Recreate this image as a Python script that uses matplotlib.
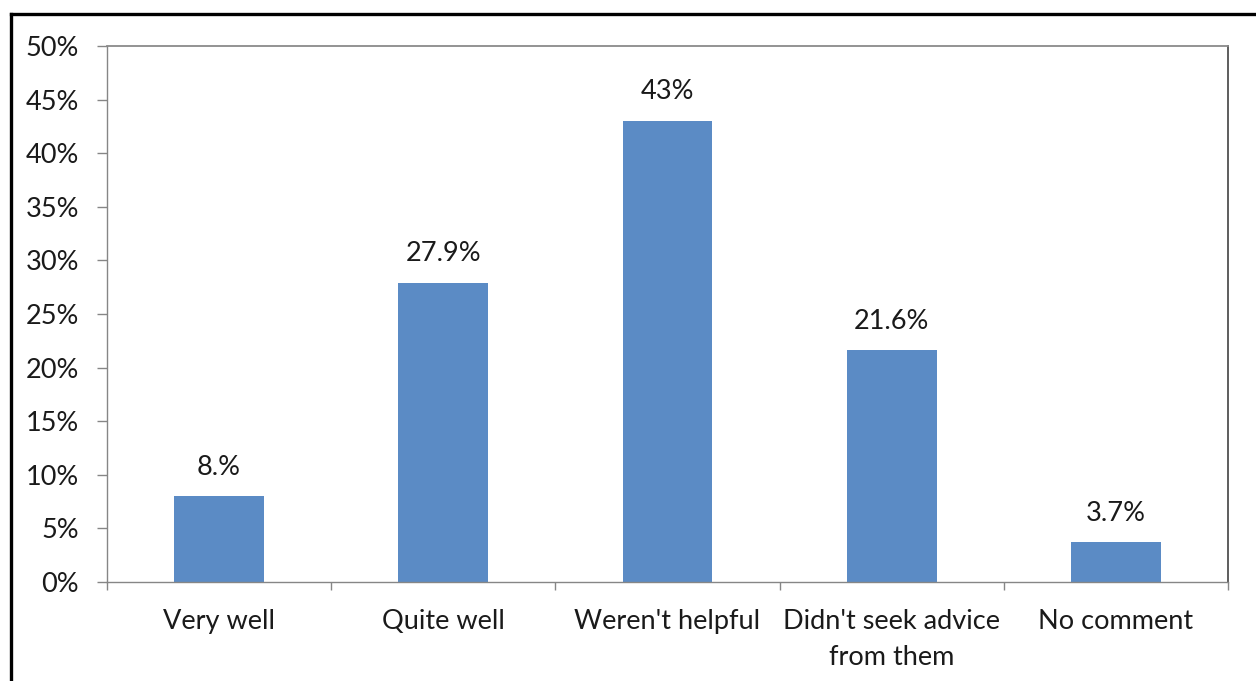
import matplotlib
matplotlib.use("Agg")
import matplotlib.pyplot as plt
from matplotlib.lines import Line2D
from matplotlib.ticker import FixedLocator, PercentFormatter

categories = ["Very well", "Quite well", "Weren't helpful", "Didn't seek advice\nfrom them", "No comment"]
values = [8.0, 27.9, 43.0, 21.6, 3.7]
value_labels = ["8.%", "27.9%", "43%", "21.6%", "3.7%"]
y_ticks = [0, 5, 10, 15, 20, 25, 30, 35, 40, 45, 50]

plt.rcParams["font.family"] = ["Lato", "DejaVu Sans"]

W, H = 1256, 681
fig = plt.figure(figsize=(W / 100, H / 100), dpi=100)
fig.patch.set_facecolor("white")

# outer chart frame (left and top edges visible)
fig.add_artist(Line2D([11 / W, 11 / W], [-0.1, 1 - 14 / H], transform=fig.transFigure,
                      color="black", lw=2.4, solid_capstyle="projecting"))
fig.add_artist(Line2D([11 / W, 1.1], [1 - 14 / H, 1 - 14 / H], transform=fig.transFigure,
                      color="black", lw=2.4, solid_capstyle="projecting"))

left, right, top, bottom = 107, 1228, 46, 582
ax = fig.add_axes([left / W, 1 - bottom / H, (right - left) / W, (bottom - top) / H])

FS = 19.5
x = list(range(len(categories)))
ax.bar(x, values, width=0.4, color="#5B8BC5", zorder=2)
for xi, v, lab in zip(x, values, value_labels):
    ax.annotate(lab, (xi, v), xytext=(0, 12), textcoords="offset points",
                ha="center", va="bottom", fontsize=FS, color="#1a1a1a")

ax.set_xlim(-0.5, len(categories) - 0.5)
ax.set_ylim(0, 50)
ax.yaxis.set_major_locator(FixedLocator(y_ticks))
ax.yaxis.set_major_formatter(PercentFormatter(decimals=0))
ax.set_xticks(x)
ax.set_xticklabels(categories, linespacing=1.55)
ax.xaxis.set_minor_locator(FixedLocator([i - 0.5 for i in range(len(categories) + 1)]))

ax.tick_params(axis="y", which="major", length=7, width=1, color="#868686",
               pad=13, labelsize=FS, labelcolor="#1a1a1a")
ax.tick_params(axis="x", which="major", length=0, pad=19.5, labelsize=FS, labelcolor="#1a1a1a")
ax.tick_params(axis="x", which="minor", length=6, width=1, color="#868686")

for side in ("left", "bottom"):
    ax.spines[side].set_color("#868686")
    ax.spines[side].set_linewidth(1.0)
ax.spines["top"].set_color("#8a8a8a")
ax.spines["top"].set_linewidth(1.3)
ax.spines["right"].set_color("#505050")
ax.spines["right"].set_linewidth(1.3)

fig.savefig("out.png", dpi=100)
